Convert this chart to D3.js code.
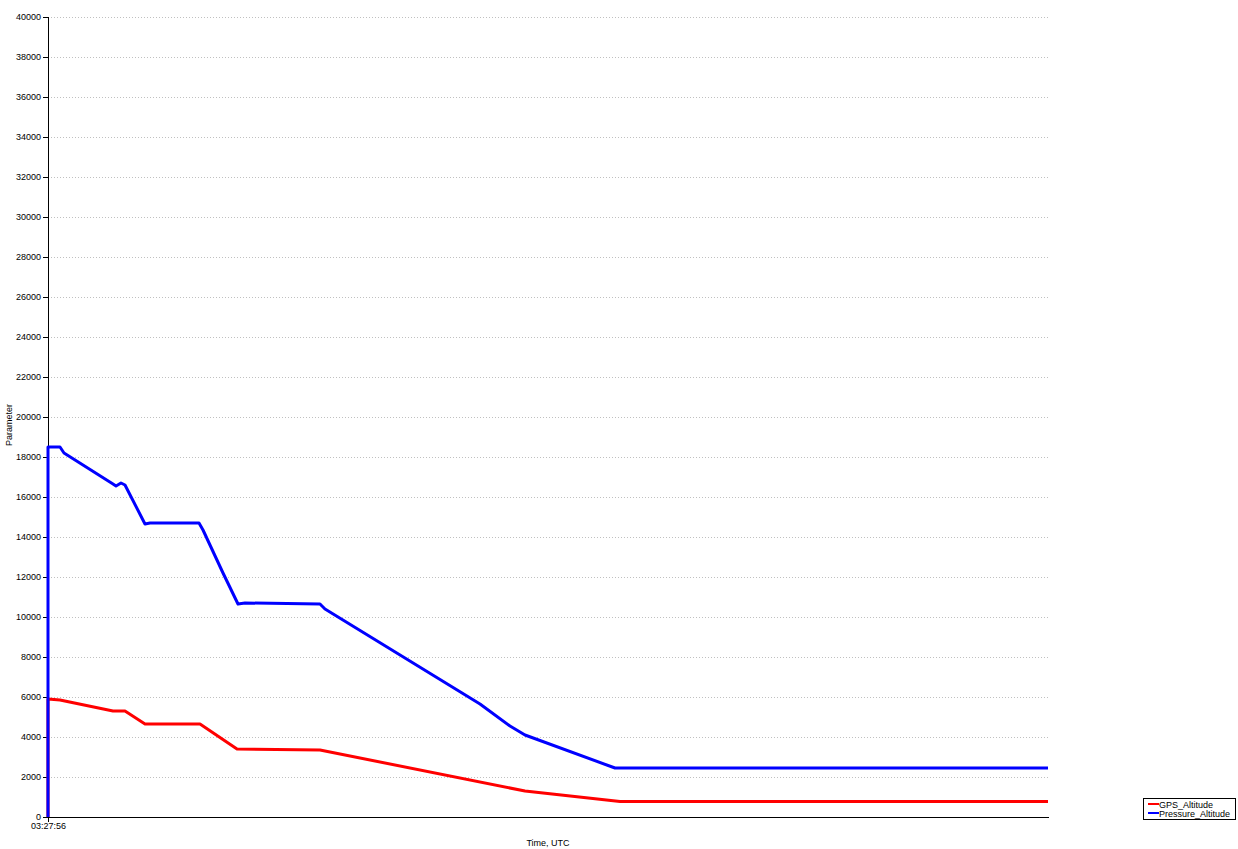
<!DOCTYPE html>
<html><head><meta charset="utf-8">
<script src="https://cdn.jsdelivr.net/npm/d3@7"></script>
<style>
html,body{margin:0;padding:0;background:#fff;}
svg{display:block;font-family:"Liberation Sans",Arial,sans-serif;}
</style></head>
<body><svg id="c" width="1238" height="849"></svg>
<script>
// Time offsets in seconds from 03:27:56 UTC
const startTime = "03:27:56";
const yTicks = d3.range(0, 40001, 2000);
const seriesNames = ["GPS_Altitude", "Pressure_Altitude"];
const seriesColors = ["#ff0000", "#0000ff"];
const gpsT = [0, 0, 12, 65, 77, 97, 152, 189, 272, 477, 572, 1000];
const gpsV = [0, 5900, 5850, 5300, 5300, 4650, 4650, 3400, 3350, 1300, 780, 780];
const presT = [0, 0, 12, 16, 65, 68, 73, 77, 97, 102, 151, 155, 175, 190, 197, 272, 277, 432, 462, 477, 567, 572, 1000];
const presV = [0, 18500, 18500, 18200, 16650, 16550, 16700, 16600, 14650, 14700, 14700, 14350, 12200, 10650, 10700, 10650, 10400, 5650, 4550, 4100, 2450, 2450, 2450];

const svg = d3.select("#c");
const m = {l:48, r:190, t:17, b:32};
const W = 1238, H = 849;
const x = d3.scaleLinear().domain([0, 1000]).range([m.l, W - m.r]);
const y = d3.scaleLinear().domain([0, 40000]).range([H - m.b, m.t]);

// grid
svg.append("g").selectAll("line").data(yTicks.filter(d => d > 0)).join("line")
  .attr("x1", x(0)).attr("x2", x(1000)).attr("y1", d => y(d)).attr("y2", d => y(d))
  .attr("stroke", "#c0c0c0").attr("stroke-width", 1).attr("stroke-dasharray", "1,2")
  .attr("shape-rendering", "crispEdges");

// y axis
const ya = svg.append("g").attr("transform", `translate(${m.l},0)`)
  .call(d3.axisLeft(y).tickValues(yTicks).tickFormat(d3.format("d")).tickSize(5).tickPadding(2));
ya.selectAll("text").attr("font-size", 9).attr("fill", "#000").attr("font-family", "Liberation Sans, Arial, sans-serif");
ya.select(".domain").attr("shape-rendering", "crispEdges");
ya.selectAll(".tick line").attr("shape-rendering", "crispEdges");

// x axis
const xa = svg.append("g").attr("transform", `translate(0,${H - m.b})`)
  .call(d3.axisBottom(x).tickValues([0]).tickFormat(() => startTime).tickSize(5).tickSizeOuter(0).tickPadding(1));
xa.selectAll("text").attr("font-size", 9).attr("fill", "#000").attr("font-family", "Liberation Sans, Arial, sans-serif");
xa.select(".domain").attr("shape-rendering", "crispEdges");

// titles
svg.append("text").attr("x", 548).attr("y", 846).attr("text-anchor", "middle")
  .attr("font-size", 9).text("Time, UTC");
svg.append("text").attr("transform", `translate(12,${(m.t + H - m.b)/2 + 8}) rotate(-90)`)
  .attr("text-anchor", "middle").attr("font-size", 9).text("Parameter");

const line = d3.line().x(d => x(d[0])).y(d => y(d[1]));
const series = [d3.zip(gpsT, gpsV), d3.zip(presT, presV)];
svg.append("g").selectAll("path").data(series).join("path")
  .attr("d", line).attr("fill", "none")
  .attr("stroke", (d, i) => seriesColors[i]).attr("stroke-width", 3)
  .attr("stroke-linejoin", "round");

// legend
const lg = svg.append("g").attr("transform", "translate(1143,798)");
lg.append("rect").attr("x", 0.5).attr("y", 0.5).attr("width", 92).attr("height", 21)
  .attr("fill", "#fff").attr("stroke", "#000");
seriesNames.forEach((n, i) => {
  const yy = 6 + i * 9;
  lg.append("line").attr("x1", 5).attr("x2", 16).attr("y1", yy).attr("y2", yy)
    .attr("stroke", seriesColors[i]).attr("stroke-width", 2);
  lg.append("text").attr("x", 16).attr("y", yy + 3.5).attr("font-size", 9).text(n);
});
</script></body></html>
